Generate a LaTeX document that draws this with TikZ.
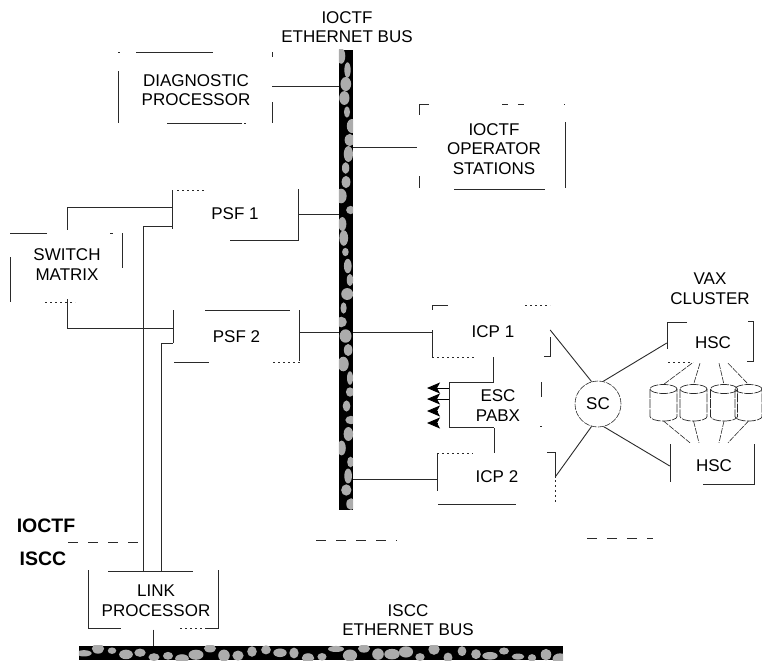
\documentclass[tikz,border=0pt]{standalone}
\usepackage{fontspec}
\setmainfont{Liberation Sans}
\usepackage{tikz}
\usetikzlibrary{arrows.meta,calc}
\definecolor{ink}{HTML}{2A2A2A}
\tikzset{
  box/.style={inner sep=0pt, align=center, font=\fontsize{17}{19.5}\selectfont, text=black},
  lbl/.style={inner sep=0pt, align=center, font=\fontsize{17}{19.5}\selectfont, text=black},
  sidelbl/.style={inner sep=0pt, font=\fontsize{19.5}{22}\selectfont\bfseries, text=black},
  frag/.style={draw=ink, line width=0.9pt},
  speck/.style={draw=ink, line width=0.7pt, dash pattern=on 2pt off 3pt},
  link/.style={draw=ink, line width=0.9pt},
  fine/.style={draw=ink, line width=0.6pt, dash pattern=on 6pt off 1.2pt},
  boundary/.style={draw=ink, line width=0.6pt, dash pattern=on 10pt off 10pt},
  busbar/.style={fill=black, inner sep=0pt},
  blob/.style={fill=gray!65, draw=none},
  diskline/.style={draw=ink, line width=0.7pt, dash pattern=on 9pt off 1.2pt},
  tip/.style={-{Stealth[length=13pt,width=11pt,inset=3pt]}, draw=black, line width=0.9pt},
}
\newcommand{\vblobs}{%
  \begin{scope}
    \clip (iobus.north west) rectangle (iobus.south east);
    \pgfmathsetseed{23}
    \foreach \y in {56,70,...,504} {
      \pgfmathsetmacro{\blobpos}{341+rnd*11}
      \pgfmathsetmacro{\blobx}{3+rnd*3}
      \pgfmathsetmacro{\bloby}{4+rnd*4}
      \fill[blob] (\blobpos,\y) ellipse[x radius=\blobx, y radius=\bloby];
    }
  \end{scope}}
\newcommand{\hblobs}{%
  \begin{scope}
    \clip (isccbus.north west) rectangle (isccbus.south east);
    \pgfmathsetseed{5}
    \foreach \x in {84,98,...,560} {
      \pgfmathsetmacro{\blobpos}{648+rnd*11}
      \pgfmathsetmacro{\blobx}{4+rnd*4}
      \pgfmathsetmacro{\bloby}{3+rnd*3}
      \fill[blob] (\x,\blobpos) ellipse[x radius=\blobx, y radius=\bloby];
    }
  \end{scope}}
\begin{document}
\begin{tikzpicture}[x=1pt,y=-1pt]
  \useasboundingbox (0,0) rectangle (762,662);
  \node[busbar, minimum width=14pt, minimum height=460pt] (iobus) at (346,280) {};
  \node[busbar, minimum width=484pt, minimum height=14pt] (isccbus) at (321,653) {};
  \vblobs
  \hblobs

  \node[lbl] (iobuslbl) at (347,27) {IOCTF\\ETHERNET BUS};
  \node[lbl] (isccbuslbl) at (408,620) {ISCC\\ETHERNET BUS};
  \node[lbl] (vaxlbl) at (710,288.5) {VAX\\CLUSTER};
  \node[sidelbl] (ioside) at (46,526) {IOCTF};
  \node[sidelbl] (isccside) at (43,559) {ISCC};

  \node[box, minimum width=152pt, minimum height=71pt] (diag) at (196,90) {DIAGNOSTIC\\PROCESSOR};
  \node[box, minimum width=150pt, minimum height=85pt] (ops) at (494,149) {IOCTF\\OPERATOR\\STATIONS};
  \node[box, minimum width=126pt, minimum height=50pt] (psf1) at (235,214) {PSF 1};
  \node[box, minimum width=126pt, minimum height=52pt] (psf2) at (236.5,337) {PSF 2};
  \node[box, minimum width=112pt, minimum height=69pt] (sw) at (67,264.5) {SWITCH\\MATRIX};
  \node[box, minimum width=130pt, minimum height=58pt] (lp) at (156,600.5) {LINK\\PROCESSOR};
  \node[box, minimum width=114pt, minimum height=50pt] (icp1) at (493,332) {ICP 1};
  \node[box, minimum width=116pt, minimum height=48pt] (icp2) at (497,477) {ICP 2};
  \node[box, minimum width=98pt, minimum height=45pt] (esc) at (498,405.5) {ESC\\PABX};
  \node[box, circle, minimum size=46pt, fine] (sc) at (598,404) {SC};
  \node[box, minimum width=92pt, minimum height=40pt] (hsc1) at (713,343) {HSC};
  \node[box, minimum width=88pt, minimum height=46pt] (hsc2) at (714,466) {HSC};

  \foreach \i/\cx in {1/663.5,2/693.5,3/724,4/748.5} {
    \coordinate (disk\i top) at (\cx,384.5);
    \coordinate (disk\i bot) at (\cx,421);
    \draw[diskline] (\cx,389) ellipse[x radius=13.5, y radius=4.5];
    \draw[diskline] (\cx-13.5,389) -- (\cx-13.5,416.5)
      arc[start angle=180, end angle=0, x radius=13.5, y radius=4.5] -- (\cx+13.5,389);
  }

  % visible pieces of the box outlines
  \draw[frag] (118,52)--(120,52) (136,52)--(213,52) (272,52)--(272,57)
    (118.5,71)--(118.5,123) (167,123)--(242,123) (244,123)--(246,123) (272,102)--(272,123);
  \draw[frag] (429,104)--(419,104)--(419,115) (502,104)--(508,104) (518,104)--(524,104)
    (564,104)--(565,104) (565,122)--(565,188) (454,189)--(545,189) (419,176)--(419,188);
  \draw[frag] (172.5,190)--(172.5,229) (298,189)--(298,240)--(230,240);
  \draw[speck] (177,190)--(205,190);
  \draw[frag] (205,310)--(290,310) (173.5,310)--(173.5,343) (299,310)--(299,361)
    (174,362)--(209,362);
  \draw[speck] (273,362)--(300,362);
  \draw[frag] (47,233)--(10,233) (110,233)--(113,233) (122,233)--(122,268) (10,257)--(10,302);
  \draw[speck] (45,302)--(75,302);
  \draw[frag] (108,571)--(193,571) (88,570)--(88,628)--(121,628) (205,628)--(218,628)--(218,570);
  \draw[speck] (180,628)--(205,628);
  \draw[frag] (448,305)--(432,305)--(432,310) (432,330)--(432,357) (550,337)--(550,356)--(544,356);
  \draw[speck] (525,305)--(550,305) (432,357)--(475,357);
  \draw[frag] (493,382)--(449,382)--(449,427)--(494,427) (541,382)--(541,397) (540,426)--(542,426);
  \draw[frag] (437,453)--(437,491) (547,452)--(555,452)--(555,478) (438,504)--(516,504);
  \draw[speck] (437,453)--(473,453) (555,480)--(555,503);
  \draw[frag] (687,322)--(667,322)--(667,349) (748,321)--(753,321)--(753,361)--(747,361);
  \draw[speck] (668,362)--(693,362);
  \draw[frag] (670,444)--(670,482) (754,444)--(754,484)--(703,484);

  \draw[boundary] (68,542) -- (138,542);
  \draw[boundary] (316,540) -- (397,540);
  \draw[boundary] (587,538) -- (653,538);

  \draw[link] ([yshift=4pt]diag.east) -- ([yshift=4pt]diag.east -| iobus.west);
  \draw[link] ([xshift=-2pt,yshift=2pt]ops.west) -- ([yshift=2pt]ops.west -| iobus.east);
  \draw[link] (psf1.east) -- (psf1.east -| iobus.west);
  \draw[link] ([yshift=5pt]psf2.east) -- ([yshift=5pt]psf2.east -| iobus.west);
  \draw[link] (sw.north) |- ([yshift=7pt]psf1.west);
  \draw[link] (sw.south) |- ([yshift=9pt]psf2.west);
  \draw[link] ([xshift=-13pt]lp.north) |- ([yshift=-12pt]psf1.west);
  \draw[link] ([xshift=5pt]lp.north) |- ([yshift=-6pt]psf2.west);
  \draw[link] ([xshift=-3pt]lp.south) -- ([xshift=-3pt]lp.south |- isccbus.north);
  \draw[link] ([xshift=-4pt]icp1.west) -- (icp1.west -| iobus.east);
  \draw[link] ([xshift=-2pt,yshift=-2pt]icp2.west) -- ([yshift=-2pt]icp2.west -| iobus.east);
  \draw[link] (icp1.south) -- (icp1.south |- esc.north);
  \draw[link] ([xshift=-4pt]esc.south) -- ([xshift=-4pt]esc.south |- icp2.north);
  \draw[link] ([yshift=2pt]icp1.east) -- (sc.106);
  \draw[link] (icp2.east) -- (sc.254);
  \draw[link] (hsc1.west) -- (sc.77);
  \draw[link] (hsc2.west) -- (sc.284);

  \foreach \i/\ax/\ay in {1/449/388,2/449/399,3/438/411,4/438/423} {
    \coordinate (tip\i) at (427,\ay);
    \draw[tip] (\ax,\ay) -- (tip\i);
  }

  \foreach \i/\s in {1/-21,2/-13,3/6,4/15}
    \draw[fine] ([xshift=\s pt]hsc1.south) -- (disk\i top);
  \foreach \i/\s in {1/-24,2/-15,3/5,4/14}
    \draw[fine] (disk\i bot) -- ([xshift=\s pt]hsc2.north);
\end{tikzpicture}
\end{document}
